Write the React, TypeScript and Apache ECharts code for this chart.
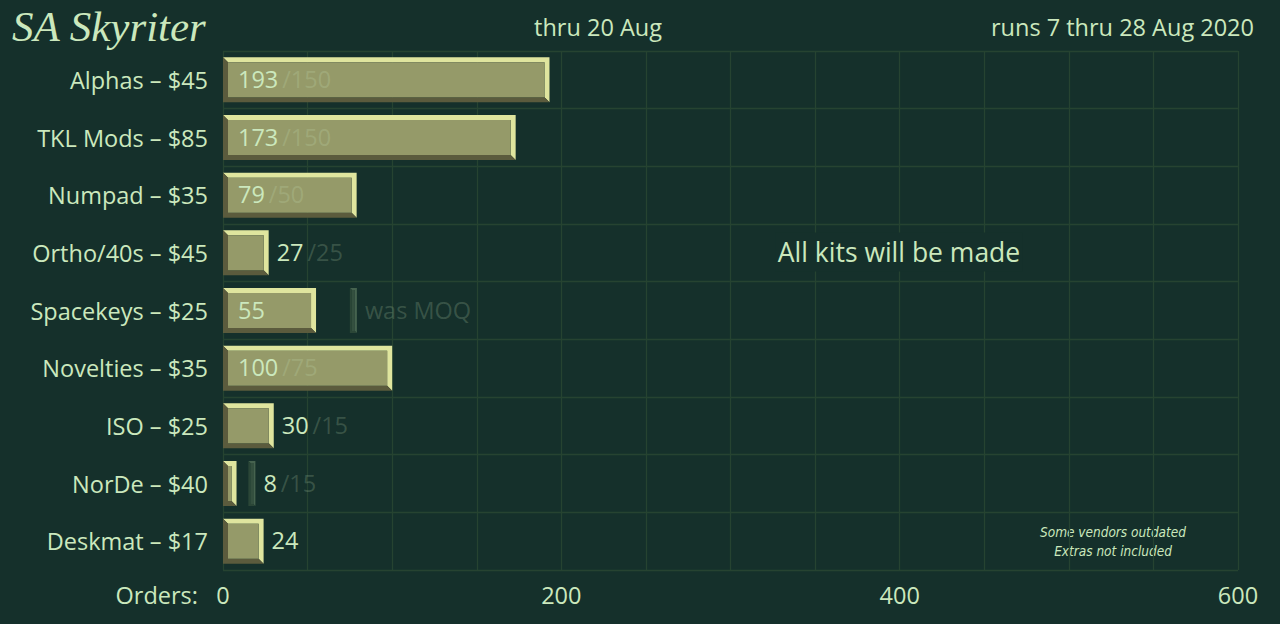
import { useEffect, useRef } from 'react';
import * as echarts from 'echarts';

// kits, top to bottom
const categories = [
  'Alphas – $45',
  'TKL Mods – $85',
  'Numpad – $35',
  'Ortho/40s – $45',
  'Spacekeys – $25',
  'Novelties – $35',
  'ISO – $25',
  'NorDe – $40',
  'Deskmat – $17',
];
const orders = [193, 173, 79, 27, 55, 100, 30, 8, 24];
const moqs: (number | null)[] = [150, 150, 50, 25, 75, 75, 15, 15, null];
const moqNotes = ['', '', '', '', 'was MOQ', '', '', '', ''];
const xTicks = [0, 200, 400, 600];

const BG = '#15302b';
const TEXT = '#cbe8bd';
const DIM = 'rgba(203,232,189,0.2)';
const GRID = '#264331';
const FONT = '"Open Sans", sans-serif';
const FS = 23.5;

function bevel(x: number, y: number, w: number, h: number, c: { light: string; dark: string; face: string }, size = 5) {
  const b = Math.min(size, w / 2, h / 2);
  const x1 = x + w;
  const y1 = y + h;
  return [
    {
      type: 'polygon',
      shape: { points: [[x, y], [x1, y], [x1, y1], [x1 - b, y1 - b], [x1 - b, y + b], [x + b, y + b]] },
      style: { fill: c.light },
    },
    {
      type: 'polygon',
      shape: { points: [[x, y], [x + b, y + b], [x + b, y1 - b], [x1 - b, y1 - b], [x1, y1], [x, y1]] },
      style: { fill: c.dark },
    },
    {
      type: 'rect',
      shape: { x: x + b, y: y + b, width: Math.max(0, w - 2 * b), height: Math.max(0, h - 2 * b) },
      style: { fill: c.face },
    },
  ];
}

const barColors = { light: '#dfe59e', dark: '#5b5b3d', face: '#959a69' };
const moqColors = { light: '#46634f', dark: '#2b4637', face: '#34503f' };

function App() {
  const chartRef = useRef<HTMLDivElement>(null);

  useEffect(() => {
    if (!chartRef.current) return;
    const chart = echarts.init(chartRef.current, null, { renderer: 'svg' });

    const option: echarts.EChartsOption = {
      animation: false,
      backgroundColor: BG,
      grid: { left: 223, right: 42, top: 51, bottom: 54 },
      xAxis: {
        type: 'value',
        min: 0,
        max: 600,
        interval: 50,
        axisLine: { show: false },
        axisTick: { show: false },
        splitLine: { lineStyle: { color: GRID, width: 1.3 } },
        axisLabel: {
          color: TEXT,
          fontSize: FS,
          fontFamily: FONT,
          margin: 13,
          formatter: (v: number) => (xTicks.includes(v) ? String(v) : ''),
        },
      },
      yAxis: {
        type: 'category',
        inverse: true,
        data: categories,
        axisLine: { show: false },
        axisTick: { show: false },
        splitLine: { show: true, interval: 0, lineStyle: { color: GRID, width: 1.3 } },
        axisLabel: { color: TEXT, fontSize: FS, fontFamily: FONT, margin: 15, padding: [0, 0, 6, 0] },
      },
      graphic: [
        {
          type: 'text',
          left: 12,
          top: 5,
          style: {
            text: 'SA Skyriter',
            fill: TEXT,
            font: 'italic 43px "Liberation Serif", serif',
          },
        },
        {
          type: 'text',
          x: 598,
          y: 27,
          style: { text: 'thru 20 Aug', fill: TEXT, fontSize: FS, fontFamily: FONT, align: 'center', verticalAlign: 'middle' },
        },
        {
          type: 'text',
          x: 1254,
          y: 27,
          style: { text: 'runs 7 thru 28 Aug 2020', fill: TEXT, fontSize: FS, fontFamily: FONT, align: 'right', verticalAlign: 'middle' },
        },
        {
          type: 'text',
          x: 899,
          y: 252,
          z: 10,
          style: {
            text: 'All kits will be made',
            fill: TEXT,
            fontSize: 26.5,
            fontFamily: FONT,
            align: 'center',
            verticalAlign: 'middle',
            backgroundColor: BG,
            padding: [6, 2],
          },
        },
        {
          type: 'text',
          x: 1113,
          y: 541,
          style: {
            text: 'Some vendors outdated\nExtras not included',
            fill: TEXT,
            font: 'italic 13.5px "Liberation Sans Narrow", "DejaVu Sans Condensed", sans-serif',
            lineHeight: 19,
            align: 'center',
            verticalAlign: 'middle',
          },
        },
        {
          type: 'text',
          x: 198,
          y: 595,
          style: { text: 'Orders:', fill: TEXT, fontSize: FS, fontFamily: FONT, align: 'right', verticalAlign: 'middle' },
        },
      ],
      series: [
        {
          type: 'custom',
          encode: { x: 0, y: 1 },
          data: orders.map((v, i) => [v, i]),
          renderItem: (params: any, api: any) => {
            const i = params.dataIndex;
            const v = api.value(0);
            const start = api.coord([0, i]);
            const end = api.coord([v, i]);
            const h = api.size([0, 1])[1] * 0.78;
            const y0 = end[1] - h / 2;
            const children: any[] = bevel(start[0], y0, end[0] - start[0], h, barColors);

            const moq = moqs[i];
            let rightEdge = end[0];
            if (moq != null && moq > v) {
              const mx = api.coord([moq, i])[0];
              children.push(...bevel(mx, y0, 7, h, moqColors, 2));
              rightEdge = mx + 7;
            }

            const note = moqNotes[i];
            const showMoq = moq != null && !note;
            const txt = `{v|${v}}` + (showMoq ? `{m|\u2009/${moq}}` : '');
            const rich = {
              v: { fill: TEXT, fontSize: FS, fontFamily: FONT },
              m: { fill: DIM, fontSize: FS, fontFamily: FONT },
            };
            const inside = v >= 50;
            children.push({
              type: 'text',
              x: inside ? start[0] + 15 : rightEdge + 8,
              y: end[1] - 1,
              style: { text: txt, rich, verticalAlign: 'middle', align: 'left' },
            });
            if (note) {
              children.push({
                type: 'text',
                x: rightEdge + 8,
                y: end[1] - 1,
                style: { text: note, fill: DIM, fontSize: FS, fontFamily: FONT, verticalAlign: 'middle' },
              });
            }
            return { type: 'group', children };
          },
        } as any,
      ],
    };

    chart.setOption(option);
    return () => {
      chart.dispose();
    };
  }, []);

  return <div ref={chartRef} style={{ position: 'fixed', left: 0, top: 0, width: 1280, height: 624 }} />;
}

export default App;
